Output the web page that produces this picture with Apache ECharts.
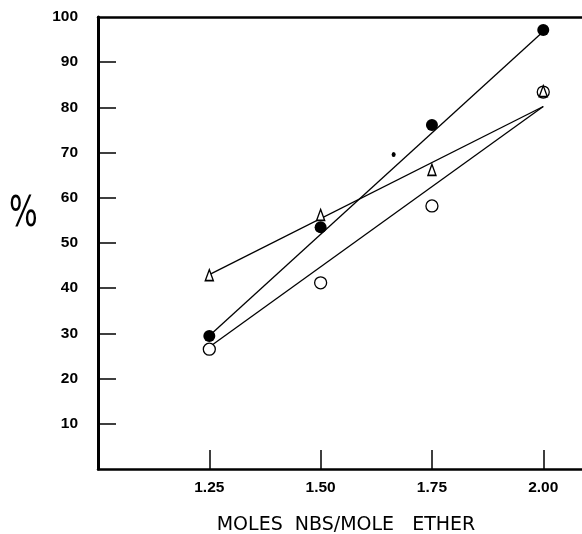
<!DOCTYPE html>
<html>
<head>
<meta charset="utf-8">
<script src="https://cdn.jsdelivr.net/npm/echarts@6/dist/echarts.min.js"></script>
<style>
  html, body { margin: 0; padding: 0; background: #fff; }
  #chart { width: 582px; height: 534px; }
</style>
</head>
<body>
<div id="chart"></div>
<script>
// moles NBS per mole ether
const xValues = [1.25, 1.50, 1.75, 2.00];
// measured points
const filledPts = [29.4, 53.5, 76.1, 97.1];
const openPts = [26.5, 41.2, 58.2, 83.4];
const trianglePts = [42.9, 56.2, 66.2, 83.6];
// fitted straight lines: [x, y] at both ends
const filledFit = [[1.25, 29.5], [2.00, 96.8]];
const openFit = [[1.25, 27.0], [2.00, 80.2]];
const triangleFit = [[1.25, 43.0], [2.00, 80.2]];
// small stray dot on the original
const strayDot = [[1.664, 69.6]];

const xTicks = [1.25, 1.50, 1.75, 2.00];
const yTicks = [10, 20, 30, 40, 50, 60, 70, 80, 90];
const yLabels = [10, 20, 30, 40, 50, 60, 70, 80, 90, 100];

const pair = (ys) => xValues.map((x, i) => [x, ys[i]]);
const labelFont = { color: '#000', fontFamily: 'Liberation Sans', fontWeight: 'bold', fontSize: 15.5 };

const chart = echarts.init(document.getElementById('chart'));
const fitLine = (data) => ({
  type: 'line',
  data: data,
  symbol: 'none',
  lineStyle: { color: '#000', width: 1.3 },
  silent: true,
  z: 2
});

const option = {
  animation: false,
  backgroundColor: '#fff',
  grid: { left: 98, right: 0, top: 17, bottom: 65, outerBoundsMode: 'none', containLabel: false },
  xAxis: [
    {
      type: 'value',
      min: 1.0,
      max: 2.087,
      interval: 0.25,
      splitLine: { show: false },
      axisLine: { lineStyle: { color: '#000', width: 2.5 } },
      axisTick: { inside: true, length: 19, customValues: xTicks, lineStyle: { color: '#000', width: 1.5 } },
      axisLabel: Object.assign({ margin: 11, customValues: xTicks, formatter: (v) => v.toFixed(2) }, labelFont),
      name: 'MOLES  NBS/MOLE   ETHER',
      nameLocation: 'middle',
      nameGap: 47,
      nameTextStyle: { color: '#000', fontFamily: 'DejaVu Sans', fontSize: 19, padding: [0, 0, 0, 12] }
    },
    {
      type: 'value',
      position: 'top',
      min: 1.0,
      max: 2.087,
      splitLine: { show: false },
      axisLine: { show: true, lineStyle: { color: '#000', width: 2.5 } },
      axisTick: { show: false },
      axisLabel: { show: false }
    }
  ],
  yAxis: {
    type: 'value',
    min: 0,
    max: 100,
    interval: 10,
    splitLine: { show: false },
    axisLine: { show: true, lineStyle: { color: '#000', width: 3 } },
    axisTick: { inside: true, length: 18, customValues: yTicks, lineStyle: { color: '#000', width: 1.5 } },
    axisLabel: Object.assign({ margin: 20, customValues: yLabels }, labelFont)
  },
  graphic: [
    {
      type: 'text',
      x: 9,
      y: 194,
      scaleX: 0.72,
      style: { text: '%', fill: '#000', fontFamily: 'DejaVu Sans', fontSize: 42 }
    }
  ],
  series: [
    fitLine(filledFit),
    fitLine(openFit),
    fitLine(triangleFit),
    {
      type: 'scatter',
      data: pair(filledPts),
      symbol: 'circle',
      symbolSize: 12,
      itemStyle: { color: '#000', opacity: 1 },
      z: 4
    },
    {
      type: 'scatter',
      data: pair(openPts),
      symbol: 'circle',
      symbolSize: 12,
      itemStyle: { color: '#fff', borderColor: '#000', borderWidth: 1.3, opacity: 1 },
      z: 4
    },
    {
      type: 'scatter',
      data: pair(trianglePts),
      symbol: 'triangle',
      symbolSize: [8, 11],
      itemStyle: { color: '#fff', borderColor: '#000', borderWidth: 1.5, opacity: 1 },
      z: 5
    },
    {
      type: 'scatter',
      data: strayDot,
      symbol: 'circle',
      symbolSize: [4, 5],
      itemStyle: { color: '#000', opacity: 1 },
      z: 4
    }
  ]
};
chart.setOption(option);
</script>
</body>
</html>
